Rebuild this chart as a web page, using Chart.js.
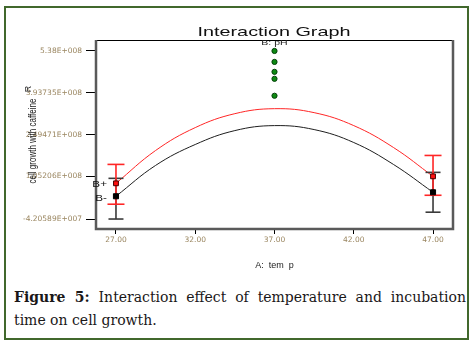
<!DOCTYPE html>
<html lang="en">
<head>
    <meta charset="UTF-8">
    <title>Interaction Graph</title>
    <script src="https://cdn.jsdelivr.net/npm/chart.js"></script>
    <style>
        body {
            margin: 0;
            background: #fff;
            width: 473px;
            height: 340px;
            position: relative;
            overflow: hidden;
        }
        .frame {
            position: absolute;
            left: 4px;
            top: 6px;
            width: 461px;
            height: 330px;
            border: 2px solid #41682c;
        }
        #chartBox {
            position: absolute;
            left: 0;
            top: 0;
            width: 473px;
            height: 285px;
        }
        .caption {
            position: absolute;
            left: 14px;
            top: 286px;
            width: 452px;
            font-family: "DejaVu Serif", serif;
            font-size: 14px;
            line-height: 23px;
            color: #1a1718;
        }
        .caption .l1 {
            text-align: justify;
            text-align-last: justify;
        }
    </style>
</head>
<body>
    <div class="frame"></div>
    <div id="chartBox">
        <canvas id="interaction" width="473" height="285"></canvas>
    </div>
    <div class="caption">
        <div class="l1"><b>Figure 5:</b> Interaction effect of temperature and incubation</div>
        <div>time on cell growth.</div>
    </div>

    <script>
        // values
        const temps = [27, 29.5, 32, 34.5, 37, 39.5, 42, 44.5, 47];
        const bPlus = [8.12e7, 1.945e8, 2.735e8, 3.216e8, 3.388e8, 3.251e8, 2.804e8, 2.05e8, 1.053e8];
        const bMinus = [3.66e7, 1.43e8, 2.152e8, 2.632e8, 2.804e8, 2.667e8, 2.22e8, 1.465e8, 5.03e7];

        // design points with their error bars (low / high)
        const designTemps = [27, 47];
        const bPlusPoints = [8.12e7, 1.053e8];
        const bPlusLow = [9.1e6, 4.0e7];
        const bPlusHigh = [1.465e8, 1.774e8];
        const bMinusPoints = [3.66e7, 5.03e7];
        const bMinusLow = [-4.2e7, -1.84e7];
        const bMinusHigh = [9.84e7, 1.19e8];

        // green run points at 37
        const runTemp = 37;
        const runValues = [5.38e8, 5.002e8, 4.659e8, 4.418e8, 3.834e8];

        const xTicks = [27, 32, 37, 42, 47];
        const yTicks = [5.38e8, 3.93735e8, 2.49471e8, 1.05206e8, -4.20589e7];
        const yTickLabels = ['5.38E+008', '3.93735E+008', '2.49471E+008', '1.05206E+008', '-4.20589E+007'];

        const RED = '#ff2626';
        const BLACK = '#1e1e1e';

        function pts(xs, ys) {
            return xs.map((x, i) => ({ x: x, y: ys[i] }));
        }

        const datasets = [];

        // curves
        datasets.push({ data: pts(temps, bPlus), borderColor: RED, borderWidth: 1, pointRadius: 0, tension: 0.4, order: 4 });
        datasets.push({ data: pts(temps, bMinus), borderColor: BLACK, borderWidth: 1, pointRadius: 0, tension: 0.4, order: 4 });

        // error bars: black under red
        designTemps.forEach((t, i) => {
            datasets.push({
                data: [{ x: t, y: bMinusLow[i] }, { x: t, y: bMinusHigh[i] }],
                borderColor: '#3a3a3a', borderWidth: 1.6,
                pointStyle: 'line', pointRadius: 7.5, pointBorderColor: '#3a3a3a', pointBorderWidth: 1.6,
                order: 3
            });
            datasets.push({
                data: [{ x: t, y: bPlusLow[i] }, { x: t, y: bPlusHigh[i] }],
                borderColor: RED, borderWidth: 1.6,
                pointStyle: 'line', pointRadius: 8.5, pointBorderColor: RED, pointBorderWidth: 1.6,
                order: 2
            });
        });

        // markers
        datasets.push({
            data: pts(designTemps, bMinusPoints), showLine: false,
            pointStyle: 'rect', pointRadius: 3.6, pointBackgroundColor: '#000', pointBorderColor: '#000', pointBorderWidth: 1,
            order: 1
        });
        datasets.push({
            data: pts(designTemps, bPlusPoints), showLine: false,
            pointStyle: 'rect', pointRadius: 3.4, pointBackgroundColor: '#ff1010', pointBorderColor: '#400', pointBorderWidth: 1,
            order: 0
        });
        datasets.push({
            data: runValues.map(v => ({ x: runTemp, y: v })), showLine: false,
            pointStyle: 'circle', pointRadius: 2.6, pointBackgroundColor: '#0d8a12', pointBorderColor: '#05400a', pointBorderWidth: 1,
            order: 0
        });

        const SANS = '"Liberation Sans", Arial, sans-serif';

        // frame, title and the small labels
        const decor = {
            id: 'decor',
            afterDraw(chart) {
                const ctx = chart.ctx;
                const a = chart.chartArea;
                const xs = chart.scales.x;
                const ys = chart.scales.y;
                ctx.save();

                // plot box
                ctx.strokeStyle = '#000';
                ctx.lineWidth = 1;
                ctx.beginPath();
                ctx.moveTo(a.left, a.top + 0.5);
                ctx.lineTo(a.right, a.top + 0.5);
                ctx.stroke();
                ctx.strokeStyle = '#5a5a5a';
                ctx.lineWidth = 2.5;
                ctx.beginPath();
                ctx.moveTo(a.left, a.top);
                ctx.lineTo(a.left, a.bottom);
                ctx.lineTo(a.right, a.bottom);
                ctx.lineTo(a.right, a.top);
                ctx.stroke();

                // title, stretched like the original
                ctx.fillStyle = '#111';
                ctx.font = '13px ' + SANS;
                ctx.textAlign = 'center';
                ctx.textBaseline = 'middle';
                const title = 'Interaction Graph';
                const w = ctx.measureText(title).width;
                ctx.save();
                ctx.translate(xs.getPixelForValue(runTemp) - 0.5, 32);
                ctx.scale(153 / w, 1);
                ctx.fillText(title, 0, 0);
                ctx.restore();

                // factor label
                ctx.font = '7px ' + SANS;
                ctx.fillStyle = '#222';
                ctx.save();
                ctx.translate(xs.getPixelForValue(runTemp), 43);
                ctx.scale(1.5, 1);
                ctx.fillText('B: pH', 0, 0);
                ctx.restore();

                // series labels at the left end
                ctx.font = '9px ' + SANS;
                ctx.textAlign = 'right';
                ctx.fillStyle = '#111';
                const lx = xs.getPixelForValue(designTemps[0]) - 9;
                ctx.save();
                ctx.translate(lx, ys.getPixelForValue(bPlusPoints[0]) + 1);
                ctx.scale(1.3, 1);
                ctx.fillText('B+', 0, 0);
                ctx.restore();
                ctx.save();
                ctx.translate(lx, ys.getPixelForValue(bMinusPoints[0]) + 2);
                ctx.scale(1.3, 1);
                ctx.fillText('B-', 0, 0);
                ctx.restore();

                // y axis title
                ctx.textAlign = 'center';
                ctx.fillStyle = '#222';
                ctx.save();
                ctx.translate(33, 141);
                ctx.rotate(-Math.PI / 2);
                ctx.font = '8px ' + SANS;
                ctx.scale(1, 1.3);
                ctx.fillText('cell growth with caffeine', 0, 0);
                ctx.restore();
                ctx.save();
                ctx.translate(29, 89);
                ctx.rotate(-Math.PI / 2);
                ctx.font = '9px ' + SANS;
                ctx.fillText('R', 0, 0);
                ctx.restore();

                ctx.restore();
            }
        };

        const tickFont = { family: '"DejaVu Sans", sans-serif', size: 7.5 };
        const tickColor = '#9a8660';

        new Chart(document.getElementById('interaction').getContext('2d'), {
            type: 'line',
            data: { datasets: datasets },
            options: {
                responsive: false,
                animation: false,
                devicePixelRatio: 1,
                layout: { padding: { top: 40, right: 20, left: 0, bottom: 0 } },
                plugins: {
                    legend: { display: false },
                    tooltip: { enabled: false }
                },
                scales: {
                    x: {
                        type: 'linear',
                        min: 25.74,
                        max: 48.26,
                        afterBuildTicks: s => { s.ticks = xTicks.map(v => ({ value: v })); },
                        afterFit: s => { s.height = 56; },
                        ticks: {
                            font: tickFont,
                            color: tickColor,
                            padding: 2,
                            maxRotation: 0,
                            callback: v => Number(v).toFixed(2)
                        },
                        grid: { drawOnChartArea: false, tickLength: 5, color: '#000', lineWidth: 1 },
                        border: { display: false },
                        title: {
                            display: true,
                            text: 'A:  tem  p',
                            color: '#222',
                            font: { family: SANS, size: 9 },
                            padding: { top: 4, bottom: 14 }
                        }
                    },
                    y: {
                        type: 'linear',
                        min: -7.64e7,
                        max: 5.758e8,
                        afterBuildTicks: s => { s.ticks = yTicks.map(v => ({ value: v })); },
                        afterFit: s => { s.width = 96; },
                        ticks: {
                            font: tickFont,
                            color: tickColor,
                            padding: 4,
                            callback: (v, i) => yTickLabels[i]
                        },
                        grid: { drawOnChartArea: false, tickLength: 10, color: '#000', lineWidth: 1 },
                        border: { display: false }
                    }
                }
            },
            plugins: [decor]
        });
    </script>
</body>
</html>
